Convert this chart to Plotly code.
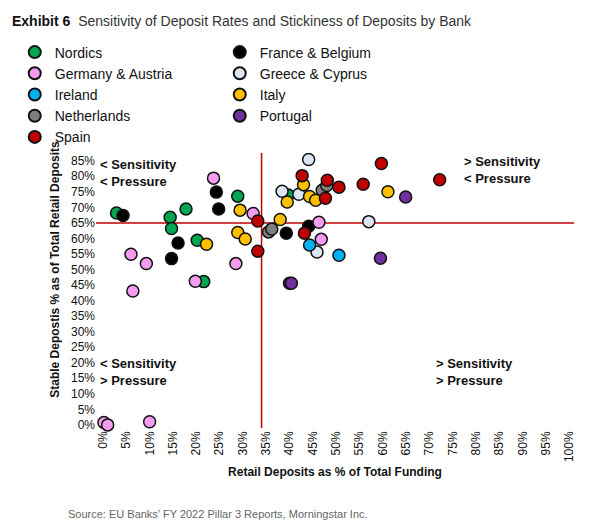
import plotly.graph_objects as go

groups = ['Nordics', 'France & Belgium', 'Germany & Austria', 'Greece & Cyprus', 'Ireland',
          'Italy', 'Netherlands', 'Portugal', 'Spain']
colors = ['#00a650', '#000000', '#f59cf0', '#dce6f2', '#00b0f0', '#ffc000', '#7f7f7f', '#7030a0', '#c00000']

# retail deposits % of funding (x), stable deposits % (y)
x_vals = {
    'Nordics': [2.9, 17.8, 14.4, 14.7, 20.2, 21.6, 28.9, 39.7],
    'France & Belgium': [4.3, 24.3, 24.8, 16.1, 14.7, 39.3, 44.1],
    'Germany & Austria': [11.6, 23.7, 6.0, 9.3, 28.5, 19.8, 6.4, 32.2, 46.3, 46.8, 0.2, 1.0, 10.0],
    'Greece & Cyprus': [44.1, 38.4, 42.0, 45.9, 57.0],
    'Ireland': [44.3, 50.6],
    'Italy': [29.4, 28.9, 30.5, 22.2, 43.0, 61.1, 44.3, 45.6, 39.5, 38.0],
    'Netherlands': [35.5, 36.2, 47.0, 48.0],
    'Portugal': [64.9, 59.5, 40.0, 40.4],
    'Spain': [33.2, 33.2, 59.7, 42.7, 48.1, 50.6, 55.8, 72.2, 47.7, 43.2],
}
y_vals = {
    'Nordics': [68.2, 69.5, 66.8, 63.2, 59.4, 46.1, 73.6, 74.0],
    'France & Belgium': [67.4, 74.9, 69.5, 58.5, 53.5, 61.7, 63.9],
    'Germany & Austria': [92.3, 79.4, 54.9, 51.9, 51.9, 46.2, 43.1, 68.0, 65.2, 59.7, 0.8, 0.0, 1.0],
    'Greece & Cyprus': [85.4, 75.2, 74.2, 55.6, 65.4],
    'Ireland': [57.9, 54.6],
    'Italy': [69.1, 61.9, 59.8, 58.1, 77.3, 75.0, 73.5, 72.3, 71.7, 66.1],
    'Netherlands': [62.1, 63.0, 75.5, 77.0],
    'Portugal': [73.3, 53.6, 45.6, 45.6],
    'Spain': [65.6, 55.9, 84.1, 80.2, 78.7, 76.5, 77.4, 78.9, 72.9, 61.7],
}
ticks = list(range(0, 101, 5))
tick_text = [f'{t}%' for t in ticks]

fig = go.Figure()
for g, c in zip(groups, colors):
    fig.add_trace(go.Scatter(x=x_vals[g], y=y_vals[g], mode='markers', name=g, cliponaxis=False,
                             marker=dict(size=12, color=c, line=dict(color='#111', width=1.5))))

fig.add_shape(type='line', x0=34, x1=34, y0=-1, y1=101, line=dict(color='#c00000', width=1.5), layer='below')
fig.add_shape(type='line', x0=-1.5, x1=101, y0=65, y1=65, line=dict(color='#c00000', width=1.5), layer='below')

quad = [(-1, 81, '< Sensitivity<br>< Pressure'), (77, 82, '> Sensitivity<br>< Pressure'),
        (-1, 17, '< Sensitivity<br>> Pressure'), (71, 17, '> Sensitivity<br>> Pressure')]
for qx, qy, txt in quad:
    fig.add_annotation(x=qx, y=qy, text=f'<b>{txt}</b>', showarrow=False, xanchor='left', align='left',
                       font=dict(size=13, color='#111'))

fig.add_annotation(x=0, y=1, xref='paper', yref='paper', xanchor='left', yanchor='top', showarrow=False, xshift=-86, yshift=100,
                   text='<b>Exhibit 6</b>  <span style="color:#333">Sensitivity of Deposit Rates and Stickiness of Deposits by Bank</span>',
                   font=dict(size=14, color='#111'))
fig.add_annotation(x=0, y=0, xref='paper', yref='paper', xanchor='left', yanchor='top', showarrow=False, xshift=-30, yshift=-78,
                   text='Source: EU Banks\u2019 FY 2022 Pillar 3 Reports, Morningstar Inc.',
                   font=dict(size=11, color='#666'))

fig.update_layout(
    width=594, height=526, plot_bgcolor='white', paper_bgcolor='white',
    margin=dict(l=88, r=28, t=103, b=106, autoexpand=False),
    font=dict(family='Liberation Sans', color='#111'),
    showlegend=True,
    legend=dict(orientation='h', x=-0.17, y=1.235, xanchor='left', yanchor='top', entrywidth=160,
                font=dict(size=14), itemsizing='constant', tracegroupgap=0, itemwidth=30),
    xaxis=dict(range=[-1.5, 101], tickvals=ticks, ticktext=tick_text, tickangle=-90, showgrid=False,
               zeroline=False, showline=False, tickfont=dict(size=12),
               title=dict(text='<b>Retail Deposits as % of Total Funding</b>', font=dict(size=12), standoff=6)),
    yaxis=dict(range=[-1, 101], tickvals=ticks, ticktext=tick_text, showgrid=False, zeroline=False,
               showline=False, tickfont=dict(size=12),
               title=dict(text='<b>Stable Depostis % as of Total Retail Deposits</b>', font=dict(size=12), standoff=2)),
)
fig.write_html('out.html')
